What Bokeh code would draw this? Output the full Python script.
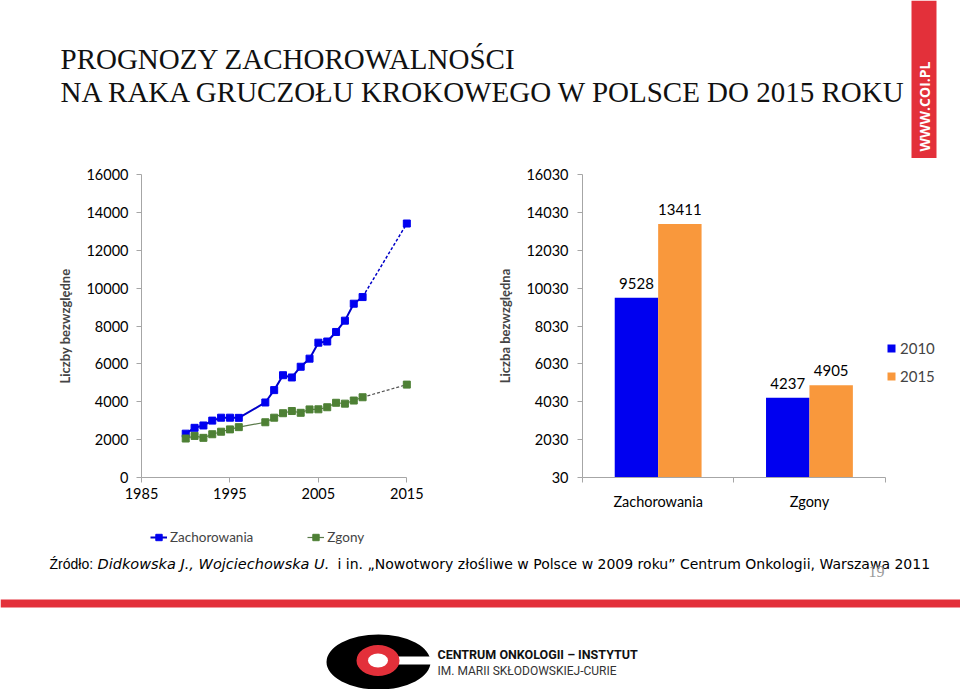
import numpy as np
from bokeh.plotting import figure
from bokeh.models import Range1d, FixedTicker, Legend, LegendItem, ColumnDataSource, LabelSet
from bokeh.layouts import column, row
from bokeh.embed import file_html
from bokeh.resources import INLINE
from bokeh.core.properties import value

# ---------------- data ----------------
title_lines = ["PROGNOZY ZACHOROWALNOŚCI",
               "NA RAKA GRUCZOŁU KROKOWEGO W POLSCE DO 2015 ROKU"]
years = [1990, 1991, 1992, 1993, 1994, 1995, 1996, 1999, 2000, 2001, 2002,
         2003, 2004, 2005, 2006, 2007, 2008, 2009, 2010, 2015]
zachorowania = [2315, 2623, 2747, 3004, 3158, 3158, 3150, 3961, 4614, 5401, 5283,
                5849, 6276, 7119, 7180, 7685, 8282, 9177, 9528, 13411]
zgony = [2058, 2196, 2094, 2284, 2418, 2541, 2659, 2917, 3158, 3395, 3510,
         3416, 3595, 3601, 3710, 3946, 3900, 4064, 4237, 4905]
series_names = ["Zachorowania", "Zgony"]
x_ticks = [1985, 1995, 2005, 2015]
y_ticks_left = [0, 2000, 4000, 6000, 8000, 10000, 12000, 14000, 16000]
left_ylabel = "Liczby bezwzględne"

bar_categories = ["Zachorowania", "Zgony"]
bar_years = ["2010", "2015"]
bar_2010 = [9528, 4237]
bar_2015 = [13411, 4905]
y_ticks_right = [30, 2030, 4030, 6030, 8030, 10030, 12030, 14030, 16030]
right_ylabel = "Liczba bezwzględna"

source_parts = ["Źródło:", "Didkowska J., Wojciechowska U.",
                "i in. „Nowotwory złośliwe w Polsce w 2009 roku” Centrum Onkologii, Warszawa 2011"]
page_number = "19"
site = "WWW.COI.PL"
logo_lines = ["CENTRUM ONKOLOGII – INSTYTUT", "IM. MARII SKŁODOWSKIEJ-CURIE"]

# ---------------- styles ----------------
FONT = "Lato"
AX = "#A6A6A6"
BLUE = "#0000F0"
BLUE_LINE = "#0000C8"
GREEN = "#4E8035"
GREEN_LINE = "#5A7A4A"
ORANGE = "#F9983C"
RED = "#E3303A"

TOP_H, MID_H, BOT_H = 158, 365, 166
NAN = float("nan")


def page_fig(w, h, y0, y1):
    p = figure(width=w, height=h, x_range=Range1d(0, w), y_range=Range1d(y1, y0),
               output_backend="svg", toolbar_location=None,
               x_axis_location=None, y_axis_location=None, min_border=0)
    p.grid.visible = False
    p.outline_line_color = None
    p.background_fill_color = "white"
    p.border_fill_color = "white"
    return p


# ---------------- title area ----------------
top = page_fig(960, TOP_H, 0, TOP_H)
top.text(x=[60, 60], y=[58, 91], text=title_lines, text_font=value("Liberation Serif"),
         text_font_size="29px", text_color="#111111", text_baseline="alphabetic", text_align="left")
top.quad(left=[911], right=[936], top=[0], bottom=[TOP_H], fill_color=RED, line_color=None)
top.text(x=[923.5], y=[106], text=[site], angle=np.pi / 2, text_font=value("Open Sans"),
         text_font_style="bold", text_font_size="14px", text_color="white",
         text_align="center", text_baseline="middle")

# ---------------- left chart ----------------
pl = figure(width=490, height=MID_H, x_range=Range1d(1985, 2017), y_range=Range1d(0, 16000),
            output_backend="svg", toolbar_location=None,
            min_border_left=141, min_border_right=66, min_border_top=9, min_border_bottom=MID_H - 319)
pl.grid.visible = False
pl.outline_line_color = None
for ax in (pl.xaxis[0], pl.yaxis[0]):
    ax.axis_line_color = AX
    ax.major_tick_line_color = AX
    ax.major_tick_in = 0
    ax.major_tick_out = 5
    ax.minor_tick_line_color = None
    ax.major_label_text_font = FONT
    ax.major_label_text_font_size = "14.5px"
    ax.major_label_text_color = "#000000"
pl.xaxis.ticker = FixedTicker(ticks=x_ticks)
pl.xaxis.bounds = (x_ticks[0], x_ticks[-1])
pl.xaxis.major_label_standoff = 5
pl.yaxis.ticker = FixedTicker(ticks=y_ticks_left)
pl.yaxis.bounds = (y_ticks_left[0], y_ticks_left[-1])
pl.yaxis.major_label_standoff = 8
pl.yaxis.axis_label = left_ylabel
pl.yaxis.axis_label_text_font = FONT
pl.yaxis.axis_label_text_font_style = "bold"
pl.yaxis.axis_label_text_font_size = "13px"
pl.yaxis.axis_label_standoff = 10

blue_line_kw = dict(line_color=BLUE_LINE, line_width=2)
green_line_kw = dict(line_color=GREEN_LINE, line_width=1.2)
blue_mark_kw = dict(marker="square", size=7, fill_color=BLUE, line_color=BLUE)
green_mark_kw = dict(marker="square", size=7, fill_color=GREEN, line_color=GREEN)

pl.line(years[:-1], zachorowania[:-1], **blue_line_kw)
pl.line(years[-2:], zachorowania[-2:], line_color=BLUE_LINE, line_width=1.5, line_dash="3 2")
pl.scatter(years, zachorowania, **blue_mark_kw)
pl.line(years[:-1], zgony[:-1], **green_line_kw)
pl.line(years[-2:], zgony[-2:], line_color="#555555", line_width=1.2, line_dash="3 2")
pl.scatter(years, zgony, **green_mark_kw)

# ---------------- right chart ----------------
CAT_PX = 151.3
pr = figure(width=470, height=MID_H, x_range=Range1d(0, (470 - 92) / CAT_PX),
            y_range=Range1d(y_ticks_right[0], y_ticks_right[-1]),
            output_backend="svg", toolbar_location=None,
            min_border_left=92, min_border_right=0, min_border_top=16, min_border_bottom=MID_H - 321)
pr.grid.visible = False
pr.outline_line_color = None
for ax in (pr.xaxis[0], pr.yaxis[0]):
    ax.axis_line_color = AX
    ax.major_label_text_font = FONT
    ax.major_label_text_font_size = "14.5px"
    ax.major_label_text_color = "#000000"
centers = [i + 0.5 for i in range(len(bar_categories))]
pr.xaxis.ticker = FixedTicker(ticks=centers, minor_ticks=list(range(len(bar_categories) + 1)))
pr.xaxis.major_label_overrides = {c: n for c, n in zip(centers, bar_categories)}
pr.xaxis.bounds = (0, len(bar_categories))
pr.xaxis.major_tick_line_color = None
pr.xaxis.minor_tick_line_color = AX
pr.xaxis.minor_tick_in = 0
pr.xaxis.minor_tick_out = 5
pr.xaxis.major_label_standoff = 9
pr.yaxis.ticker = FixedTicker(ticks=y_ticks_right)
pr.yaxis.major_tick_line_color = AX
pr.yaxis.major_tick_in = 0
pr.yaxis.major_tick_out = 5
pr.yaxis.minor_tick_line_color = None
pr.yaxis.major_label_standoff = 9
pr.yaxis.axis_label = right_ylabel
pr.yaxis.axis_label_text_font = FONT
pr.yaxis.axis_label_text_font_style = "bold"
pr.yaxis.axis_label_text_font_size = "13px"
pr.yaxis.axis_label_standoff = 10

off = 0.1435
bw = 0.287
src = ColumnDataSource(dict(
    x10=[c - off for c in centers], x15=[c + off for c in centers],
    v10=bar_2010, v15=bar_2015,
    t10=[str(v) for v in bar_2010], t15=[str(v) for v in bar_2015]))
r10 = pr.vbar(x="x10", top="v10", bottom=y_ticks_right[0], width=bw, source=src,
              fill_color=BLUE, line_color=None)
r15 = pr.vbar(x="x15", top="v15", bottom=y_ticks_right[0], width=bw, source=src,
              fill_color=ORANGE, line_color=None)
for xs, ys, ts in (("x10", "v10", "t10"), ("x15", "v15", "t15")):
    pr.add_layout(LabelSet(x=xs, y=ys, text=ts, source=src, y_offset=9,
                           text_align="center", text_baseline="bottom",
                           text_font=value(FONT), text_font_size="15px", text_color="#000000"))
leg_r = Legend(items=[LegendItem(label=bar_years[0], renderers=[r10]),
                      LegendItem(label=bar_years[1], renderers=[r15])],
               location=(304, 91), glyph_width=10, glyph_height=10, label_standoff=4,
               spacing=8, label_height=20, padding=0, margin=0,
               label_text_font=FONT, label_text_font_size="15px",
               border_line_color=None, background_fill_alpha=0)
pr.add_layout(leg_r, "center")

# ---------------- bottom area ----------------
Y0 = TOP_H + MID_H
bot = page_fig(960, BOT_H, Y0, 689)
# legend of the left chart (proxy glyphs carrying the series styles, nothing drawn)
pb1 = bot.line(x=[NAN], y=[NAN], **blue_line_kw)
pm1 = bot.scatter(x=[NAN], y=[NAN], **blue_mark_kw)
pb2 = bot.line(x=[NAN], y=[NAN], **green_line_kw)
pm2 = bot.scatter(x=[NAN], y=[NAN], **green_mark_kw)
leg_l = Legend(items=[LegendItem(label=series_names[0], renderers=[pb1, pm1]),
                      LegendItem(label=series_names[1], renderers=[pb2, pm2])],
               orientation="horizontal", location=(150, 689 - 547), glyph_width=17, glyph_height=16,
               label_standoff=3, spacing=54, padding=0, margin=0, label_height=20,
               label_text_font=FONT, label_text_font_size="13.5px",
               border_line_color=None, background_fill_alpha=0)
bot.add_layout(leg_l, "center")

bot.text(x=[49], y=[563], text=[source_parts[0]], text_font=value("Liberation Sans"),
         text_font_size="14px", text_baseline="middle", text_color="#000000")
bot.text(x=[97], y=[563], text=[source_parts[1]], text_font=value("DejaVu Sans"),
         text_font_style="italic", text_font_size="14.5px", text_baseline="middle", text_color="#000000")
bot.text(x=[337], y=[563], text=[source_parts[2]], text_font=value("DejaVu Sans"),
         text_font_size="14px", text_baseline="middle", text_color="#000000")
bot.text(x=[876], y=[571], text=[page_number], text_font=value("Liberation Serif"),
         text_font_size="16px", text_align="center", text_baseline="middle", text_color="#9A9A9A")
bot.quad(left=[0], right=[960], top=[599], bottom=[607], fill_color=RED, line_color=None)
# logo
bot.ellipse(x=[378], y=[661.5], width=[104], height=[55], fill_color="#000000", line_color=None)
bot.quad(left=[396], right=[432], top=[656], bottom=[664], fill_color="white", line_color=None)
bot.ellipse(x=[377.5], y=[660], width=[43], height=[31], fill_color=RED, line_color=None)
bot.ellipse(x=[377.5], y=[660], width=[20], height=[14], fill_color="white", line_color=None)
bot.text(x=[437], y=[654], text=[logo_lines[0]], text_font=value("Roboto"), text_font_style="bold",
         text_font_size="12.5px", text_baseline="middle", text_color="#111111")
bot.text(x=[437], y=[670.5], text=[logo_lines[1]], text_font=value("Roboto"),
         text_font_size="12px", text_baseline="middle", text_color="#333333")

layout = column(top, row(pl, pr), bot)
open("out.html", "w").write(file_html(layout, INLINE))
